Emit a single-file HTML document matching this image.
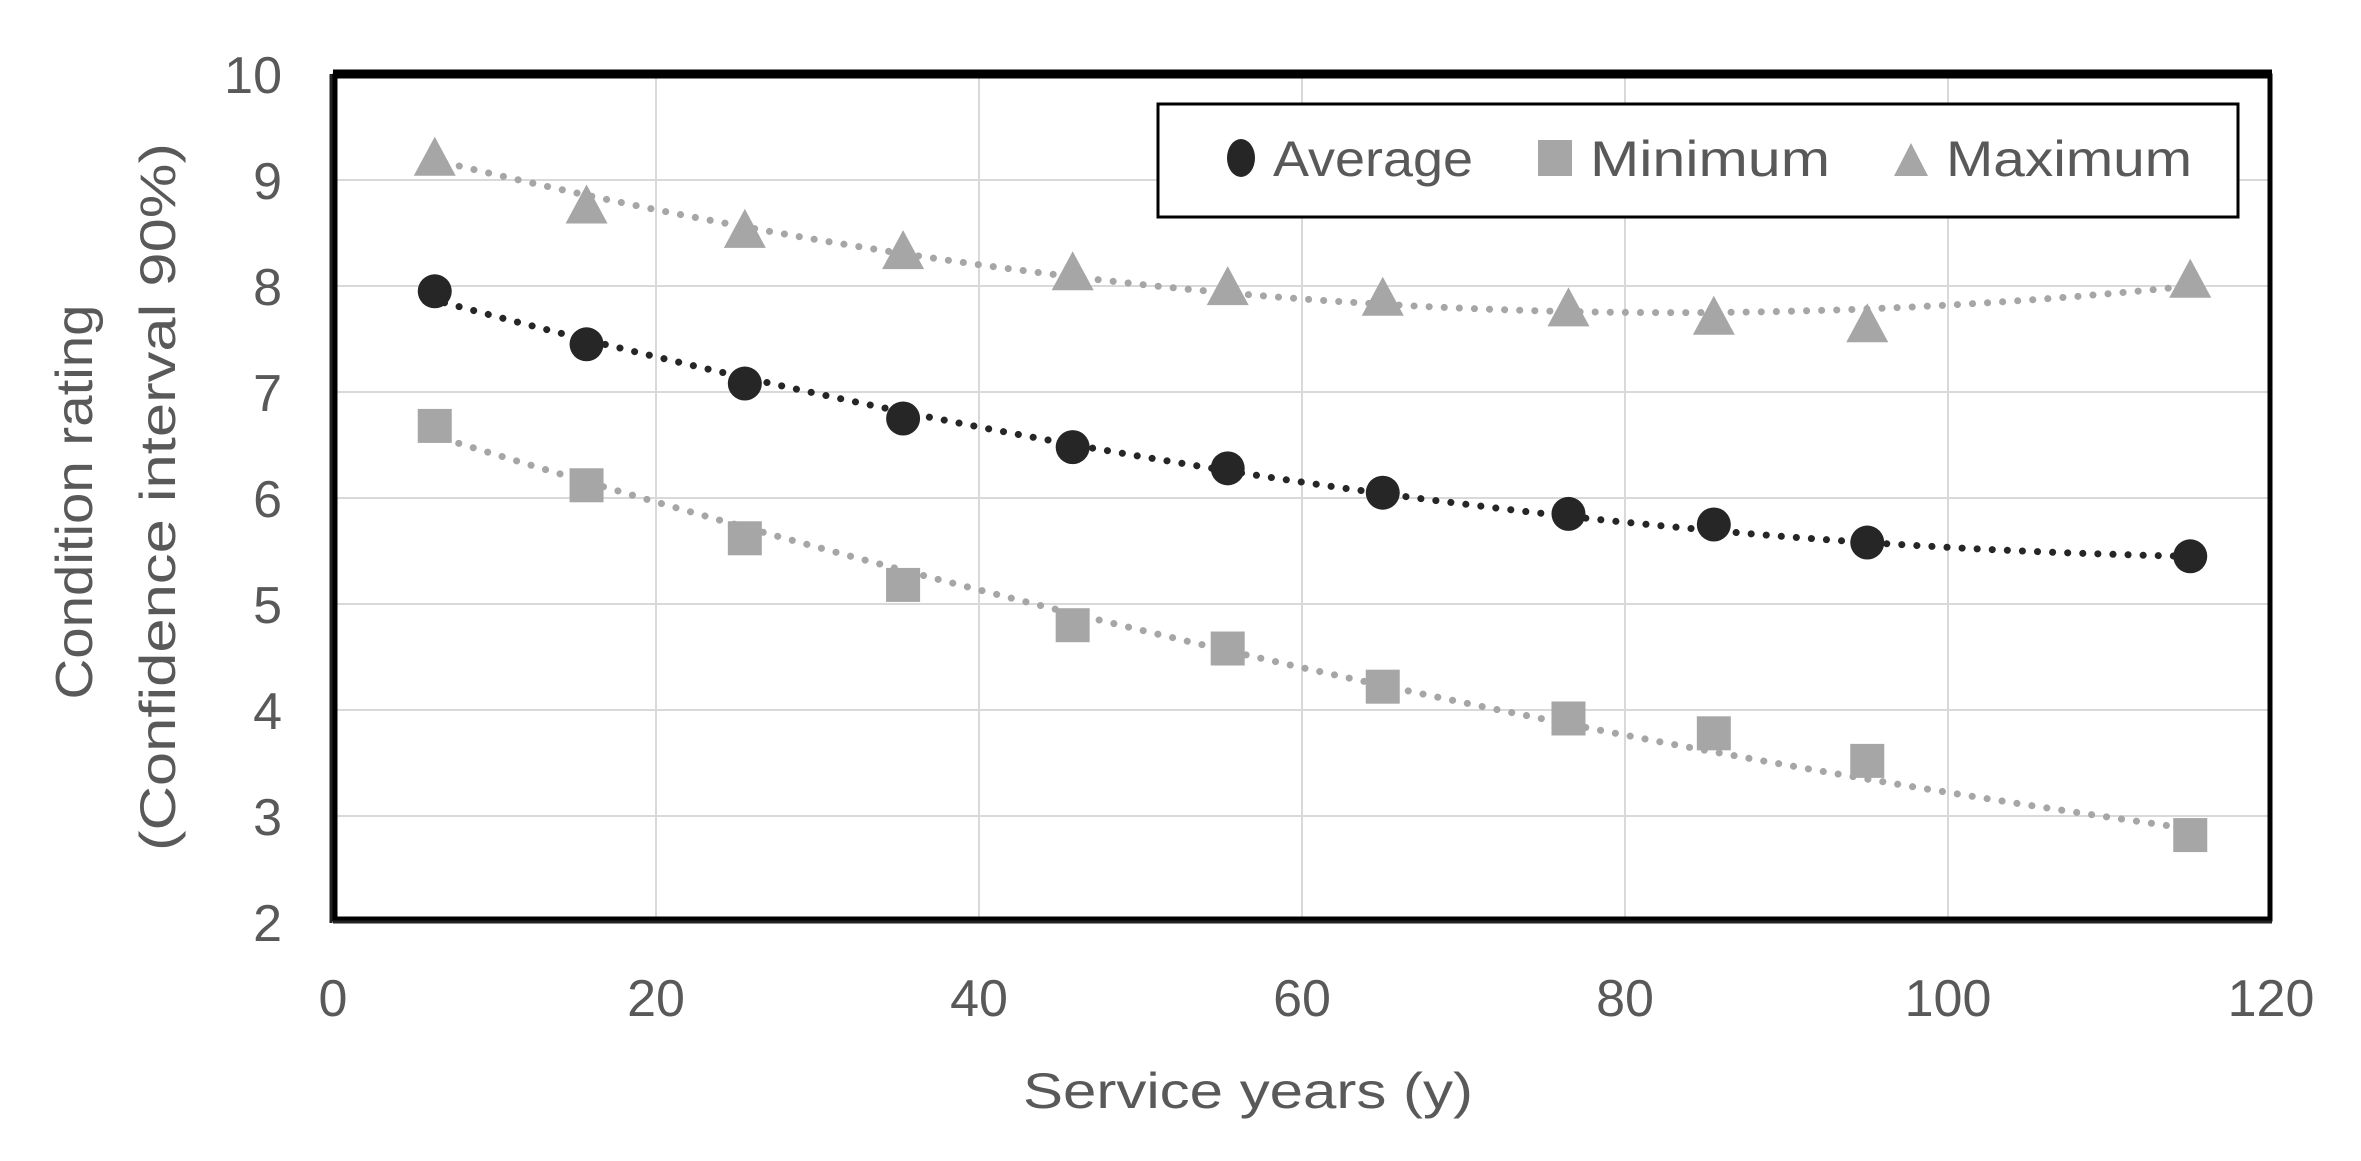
<!DOCTYPE html>
<html><head><meta charset="utf-8"><style>html,body{margin:0;padding:0;background:#fff;}svg{display:block}</style></head>
<body>
<svg id="s" width="2361" height="1161" xmlns="http://www.w3.org/2000/svg" font-family="Liberation Sans, sans-serif">
<rect width="2361" height="1161" fill="#fff"/>
<g id="grid" stroke="#d9d9d9" stroke-width="2"></g>
<g id="trend" fill="none" stroke-width="7" stroke-linecap="round" stroke-dasharray="0.1 15"></g>
<g id="pts"></g>
<rect x="335" y="76" width="1935" height="843" fill="none" stroke="#000" stroke-width="5"/>
<line x1="333" y1="74" x2="2272" y2="74" stroke="#000" stroke-width="9"/>
<line x1="333" y1="922" x2="2272" y2="922" stroke="#222" stroke-width="3"/>
<line x1="331" y1="74" x2="331" y2="923" stroke="#222" stroke-width="3"/>
<rect x="1158" y="104" width="1080" height="113" fill="#fff" stroke="#000" stroke-width="3"/>
<ellipse cx="1241" cy="158" rx="14" ry="19" fill="#262626"/>
<text x="1273" y="176" font-size="50" fill="#595959" textLength="200" lengthAdjust="spacingAndGlyphs">Average</text>
<rect x="1538" y="140" width="34" height="36" fill="#a6a6a6"/>
<text x="1590" y="176" font-size="50" fill="#595959" textLength="240" lengthAdjust="spacingAndGlyphs">Minimum</text>
<polygon points="1911,143 1928,176 1894,176" fill="#a6a6a6"/>
<text x="1946" y="176" font-size="50" fill="#595959" textLength="246" lengthAdjust="spacingAndGlyphs">Maximum</text>
<g id="ticks" fill="#595959" font-size="52"></g>
<text x="1248" y="1108" font-size="50" fill="#595959" text-anchor="middle" textLength="450" lengthAdjust="spacingAndGlyphs">Service years (y)</text>
<g transform="translate(92,502) rotate(-90)"><text x="0" y="0" font-size="52" fill="#595959" text-anchor="middle" textLength="395" lengthAdjust="spacingAndGlyphs">Condition rating</text></g>
<g transform="translate(175,497) rotate(-90)"><text x="0" y="0" font-size="50" fill="#595959" text-anchor="middle" textLength="708" lengthAdjust="spacingAndGlyphs">(Confidence interval 90%)</text></g>
</svg>
<script>
var NS="http://www.w3.org/2000/svg";
function X(v){return 333+v*16.15;}
function Y(v){return 922-(v-2)*106;}
function el(p,t,a,txt){var e=document.createElementNS(NS,t);for(var k in a)e.setAttribute(k,a[k]);if(txt!==undefined)e.textContent=txt;document.getElementById(p).appendChild(e);return e;}
for(var i=1;i<6;i++)el('grid','line',{x1:X(i*20),y1:76,x2:X(i*20),y2:920});
for(var v=3;v<10;v++)el('grid','line',{x1:335,y1:Y(v),x2:2270,y2:Y(v)});
for(var v=2;v<=10;v++)el('ticks','text',{x:282,y:Y(v)+19,'text-anchor':'end'},String(v));
for(var i=0;i<=6;i++)el('ticks','text',{x:X(i*20),y:1016,'text-anchor':'middle'},String(i*20));
function quad(p){return function(x){var s=0;for(var i=0;i<3;i++){var t=p[i][1];for(var j=0;j<3;j++)if(j!=i)t*=(x-p[j][0])/(p[i][0]-p[j][0]);s+=t;}return s;};}
function trend(p,col){var f=quad(p),d="";for(var x=6;x<=115;x+=1)d+=(x==6?"M":"L")+X(x).toFixed(1)+","+Y(f(x)).toFixed(1);el('trend','path',{d:d,stroke:col});}
trend([[6,7.88],[60,6.15],[115,5.45]],'#262626');
trend([[6,9.2],[85,7.75],[115,8.0]],'#a6a6a6');
trend([[6,6.6],[60,4.4],[115,2.88]],'#a6a6a6');
var xs=[6.3,15.7,25.5,35.3,45.8,55.4,65,76.5,85.5,95,115];
var avg=[7.95,7.45,7.08,6.75,6.48,6.28,6.05,5.85,5.75,5.58,5.45];
var mn=[6.68,6.12,5.62,5.18,4.8,4.58,4.22,3.92,3.78,3.52,2.82];
var mx=[9.2,8.75,8.52,8.32,8.12,7.98,7.88,7.78,7.7,7.63,8.05];
for(var i=0;i<xs.length;i++){var x=X(xs[i]);
 el('pts','rect',{x:x-17,y:Y(mn[i])-17,width:34,height:34,fill:'#a6a6a6'});
 var y=Y(mx[i]);el('pts','polygon',{points:(x)+","+(y-22)+" "+(x+21)+","+(y+17)+" "+(x-21)+","+(y+17),fill:'#a6a6a6'});
 el('pts','circle',{cx:x,cy:Y(avg[i]),r:17,fill:'#262626'});}
</script>
</body></html>
